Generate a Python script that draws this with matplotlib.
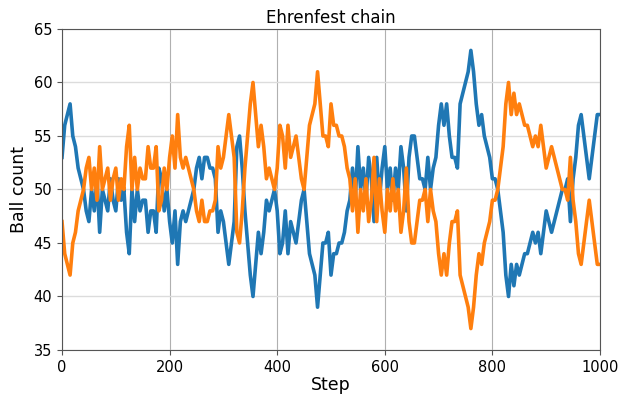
import numpy as np
import matplotlib
matplotlib.use('Agg')
import matplotlib.pyplot as plt

# Ball counts every 5 steps (urn A in blue, urn B in orange)
steps = np.arange(0, 1001, 5)

urn_a = [
    53, 56, 57, 58, 55, 54, 52, 51, 50, 48,
    47, 50, 48, 51, 46, 50, 49, 48, 51, 49,
    48, 51, 49, 50, 46, 44, 50, 47, 50, 48,
    49, 49, 46, 48, 48, 46, 52, 51, 48, 50,
    47, 45, 48, 43, 47, 48, 47, 48, 49, 50,
    52, 53, 51, 53, 53, 52, 52, 51, 46, 48,
    47, 45, 43, 45, 47, 54, 55, 52, 48, 45,
    42, 40, 43, 46, 44, 46, 49, 48, 49, 50,
    48, 44, 45, 48, 44, 47, 46, 45, 47, 49,
    50, 47, 44, 43, 42, 39, 42, 45, 45, 46,
    42, 44, 44, 45, 45, 46, 48, 49, 52, 49,
    54, 50, 52, 49, 53, 51, 47, 53, 49, 52,
    54, 50, 52, 49, 52, 50, 54, 52, 48, 53,
    55, 55, 53, 51, 51, 50, 53, 50, 52, 53,
    56, 58, 56, 58, 55, 53, 53, 52, 58, 59,
    60, 61, 63, 61, 58, 56, 57, 55, 54, 53,
    51, 51, 50, 48, 46, 42, 40, 43, 41, 43,
    42, 43, 44, 44, 45, 46, 45, 46, 44, 46,
    48, 47, 46, 47, 48, 49, 50, 50, 51, 47,
    51, 53, 56, 57, 55, 53, 51, 53, 55, 57, 57,
]

urn_b = [
    47, 44, 43, 42, 45, 46, 48, 49, 50, 52,
    53, 50, 52, 49, 54, 50, 51, 52, 49, 51,
    52, 49, 51, 50, 54, 56, 50, 53, 50, 52,
    51, 51, 54, 52, 52, 54, 48, 49, 52, 50,
    53, 55, 52, 57, 53, 52, 53, 52, 51, 50,
    48, 47, 49, 47, 47, 48, 48, 49, 54, 52,
    53, 55, 57, 55, 53, 46, 45, 48, 52, 55,
    58, 60, 57, 54, 56, 54, 51, 52, 51, 50,
    52, 56, 55, 52, 56, 53, 54, 55, 53, 51,
    50, 53, 56, 57, 58, 61, 58, 55, 55, 54,
    58, 56, 56, 55, 55, 54, 52, 51, 48, 51,
    46, 50, 48, 51, 47, 49, 53, 47, 51, 48,
    46, 50, 48, 51, 48, 50, 46, 48, 52, 47,
    45, 45, 47, 49, 49, 50, 47, 50, 48, 47,
    44, 42, 44, 42, 45, 47, 47, 48, 42, 41,
    40, 39, 37, 39, 42, 44, 43, 45, 46, 47,
    49, 49, 50, 52, 54, 58, 60, 57, 59, 57,
    58, 57, 56, 56, 55, 54, 55, 54, 56, 54,
    52, 53, 54, 53, 52, 51, 50, 50, 49, 53,
    49, 47, 44, 43, 45, 47, 49, 47, 45, 43, 43,
]

fig = plt.figure(figsize=(6.22, 3.96), dpi=100)
ax = fig.add_axes([0.0997, 0.1162, 0.8649, 0.8106])

ax.plot(steps, urn_a, color='#1f77b4', lw=2.6)
ax.plot(steps, urn_b, color='#ff7f0e', lw=2.6)

ax.set_xlim(0, 1000)
ax.set_ylim(35, 65)
ax.set_xticks([0, 200, 400, 600, 800, 1000])
ax.set_yticks([35, 40, 45, 50, 55, 60, 65])
ax.tick_params(labelsize=10.5, color='#555555')

ax.xaxis.grid(True, color='#b0b0b0', lw=0.8)
ax.yaxis.grid(True, color='#dcdcdc', lw=1.0)
ax.set_axisbelow(True)
for s in ax.spines.values():
    s.set_color('#555555')

ax.set_title('Ehrenfest chain', fontsize=12, pad=4)
ax.set_xlabel('Step', fontsize=12.5, labelpad=1)
ax.set_ylabel('Ball count', fontsize=12.5, labelpad=4)

fig.savefig('out.png', dpi=100)
